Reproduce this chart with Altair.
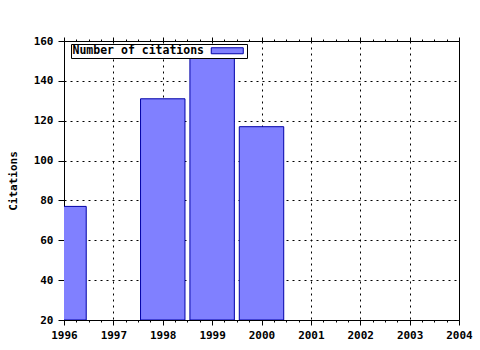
import altair as alt
import pandas as pd

years = [1996, 1998, 1999, 2000]
citations = [77, 131, 154, 117]
series_name = "Number of citations"
x_ticks = [1996 + i * 0.25 for i in range(33)]
y_ticks = [20, 40, 60, 80, 100, 120, 140, 160]

df = pd.DataFrame({"year": years, "citations": citations, "series": [series_name] * len(years)})

FONT = "DejaVu Sans Mono"
is_major = "abs(datum.value - round(datum.value)) < 0.001"
inner_major = is_major + " && datum.value > 1996.5 && datum.value < 2003.5"

xscale = alt.Scale(domain=[1996, 2004], nice=False, zero=False)
yscale = alt.Scale(domain=[20, 160], nice=False, zero=False)

base = alt.Chart(df).transform_calculate(
    x1="datum.year - 0.45", x2="datum.year + 0.45"
)

bars = base.mark_bar(clip=True, stroke="#0000a8", strokeWidth=1).encode(
    x=alt.X("x1:Q", scale=xscale, title=None,
            axis=alt.Axis(orient="bottom", values=x_ticks,
                          labelExpr=f"({is_major}) ? format(datum.value, 'd') : ''",
                          labelOverlap=False, labelFlush=False,
                          tickSize={"condition": {"test": is_major, "value": 5}, "value": 2},
                          grid=True, gridColor="black", gridDash=[2, 4],
                          gridOpacity={"condition": {"test": inner_major, "value": 1}, "value": 0},
                          labelPadding=4)),
    x2="x2:Q",
    y=alt.Y("citations:Q", scale=yscale, title="Citations",
            axis=alt.Axis(values=y_ticks, grid=True, gridColor="black", gridDash=[2, 4],
                          gridOpacity={"condition": {"test": "datum.value > 20 && datum.value < 160", "value": 1}, "value": 0},
                          tickSize=6, labelPadding=5, titlePadding=15)),
    y2=alt.datum(20),
    color=alt.Color("series:N", scale=alt.Scale(range=["#8080ff"]),
                    legend=alt.Legend(title=None, orient="none", legendX=7, legendY=3,
                                      strokeColor="black", fillColor="white", padding=1,
                                      symbolType="M-3.2,-0.6H3.2V0.6H-3.2Z", symbolSize=100,
                                      symbolStrokeColor="#0000a8", symbolStrokeWidth=1,
                                      symbolOpacity=1,
                                      labelOffset={"expr": "-160.5"}, symbolOffset=149.5,
                                      labelFont=FONT, labelFontWeight="bold", labelFontSize=11.5,
                                      labelColor="black")),
)

top = base.mark_rule(opacity=0).encode(
    x=alt.X("x1:Q", scale=xscale, title=None,
            axis=alt.Axis(orient="top", values=x_ticks, labels=False, grid=False,
                          tickSize={"condition": {"test": is_major, "value": 4}, "value": 2})),
)

chart = alt.layer(bars, top).resolve_axis(x="independent").properties(
    width=395, height=279,
    autosize=alt.AutoSizeParams(type="none"),
    padding={"left": 64, "top": 41, "right": 21, "bottom": 30},
).configure_view(stroke="black", strokeWidth=1).configure_axis(
    domainColor="black", tickColor="black", labelColor="black",
    labelFont=FONT, labelFontWeight="bold", labelFontSize=11,
    titleFont=FONT, titleFontWeight="bold", titleFontSize=11, titleColor="black",
)

chart.save("out.html", embed_options={"renderer": "svg", "actions": False})
